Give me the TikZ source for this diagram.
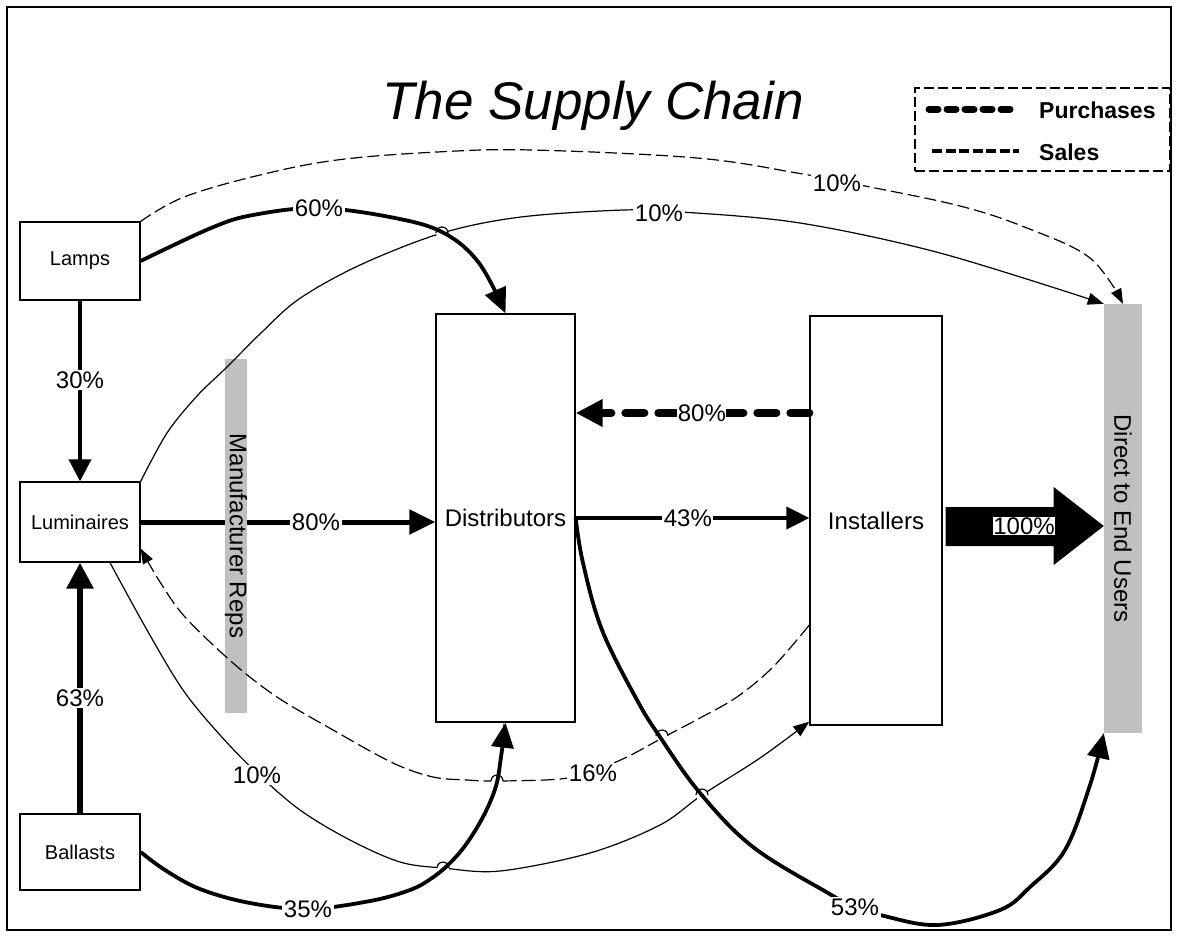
\documentclass[tikz,border=0pt]{standalone}
\usepackage{fontspec}
\setmainfont{Liberation Sans}
\usetikzlibrary{arrows.meta,calc}
\definecolor{repgray}{RGB}{192,192,192}

% small bridge where a thin flow hops over a heavy one
\newcommand\hopcut[2]{\fill[white] (#1,#2) circle[radius=6pt];}
\newcommand\hoparc[2]{\draw[line width=1.2pt] ($(#1,#2)+(-6pt,0pt)$) arc[start angle=180,end angle=0,radius=6pt];}

\begin{document}
\begin{tikzpicture}[x=1pt, y=-1pt,
  box/.style={draw, line width=1.3pt, inner sep=0pt, font=\fontsize{20}{24}\selectfont},
  bigbox/.style={box, font=\fontsize{24}{28}\selectfont},
  bar/.style={fill=repgray, inner sep=0pt},
  bartext/.style={rotate=-90, inner sep=0pt, font=\fontsize{24}{28}\selectfont},
  lbl/.style={fill=white, inner sep=1.5pt, font=\fontsize{24}{28}\selectfont},
  thinflow/.style={line width=1.2pt, -{Triangle[length=16pt,width=12pt]}},
  salesflow/.style={line width=1.2pt, dash pattern=on 12pt off 5pt, -{Triangle[length=15pt,width=11pt]}},
  heavyflow/.style={line width=3.8pt, -{Triangle[length=25pt,width=22pt]}},
  purchaseflow/.style={line width=8pt, line cap=round, dash pattern=on 19pt off 14pt, -{Triangle[length=27pt,width=26pt]}},
]
\useasboundingbox (0,0) rectangle (1177,935);
\draw[line width=1.5pt] (7,7) rectangle (1171,930);

% title
\node[anchor=base, inner sep=0pt, font=\fontsize{53}{58}\selectfont\itshape] (title) at (593,119) {The Supply Chain};

% legend
\node[draw, line width=1.5pt, dash pattern=on 10pt off 4pt, minimum width=255, minimum height=83, inner sep=0pt] (legend) at (1042.5,129.5) {};
\draw[line width=7pt, line cap=round, dash pattern=on 9pt off 9pt] (929,109) -- (1013,109);
\node[anchor=west, inner sep=0pt, font=\fontsize{23}{26}\selectfont\bfseries] (lp) at (1039,110) {Purchases};
\draw[line width=4pt, dash pattern=on 10pt off 3.5pt] (932,151) -- (1019,151);
\node[anchor=west, inner sep=0pt, font=\fontsize{23}{26}\selectfont\bfseries] (ls) at (1039,152) {Sales};

% boxes
\node[box, minimum width=120, minimum height=78] (lamps) at (80,261) {Lamps};
\node[box, minimum width=120, minimum height=80] (lum) at (80,522) {Luminaires};
\node[box, minimum width=120, minimum height=76] (ball) at (80,852) {Ballasts};
\node[bigbox, minimum width=139, minimum height=408] (dist) at (505.5,518) {Distributors};
\node[bigbox, minimum width=132, minimum height=409] (inst) at (876,520.5) {Installers};
\node[bar, minimum width=38, minimum height=429] (direct) at (1123,518.5) {};
\node[bartext] at (direct.center) {Direct to End Users};

% luminaires to distributors, passing behind the reps bar
\draw[line width=5pt, -{Triangle[length=26pt,width=24pt]}] (lum.east) -- (lum.east -| dist.west)
  node[lbl, pos=0.595] (l80a) {80\%};
\node[bar, minimum width=22, minimum height=354] (reps) at (236,536) {};
\node[bartext] at (reps.center) {Manufacturer Reps};

% thin flows
\draw[salesflow] plot[smooth, tension=0.6] coordinates {(lamps.north east) (184,197) (260,175) (337,160) (437,152) (532,150) (697,158) (797,173) (860,185) (960,206) (1027,228) (1090,258) (direct.north)};
\draw[thinflow] plot[smooth, tension=0.55] coordinates {(lum.north east) (167,433) (197,396) (227,367) (261,333) (299,299) (360,265) (442,233) (521,217) (624,210) (682,212) (800,223) (940,253) (direct.north west)};
\draw[salesflow, dash pattern=on 14pt off 5pt] plot[smooth, tension=0.55] coordinates {(inst.west |- 0,625) (773,667) (737,697) (700,718) (664,737) (627,757) (593,771) (560,779) (497,781) (467,780) (433,777) (393,763) (333,730) (277,697) (233,663) (185,617) (160,582) ($(lum.south east)+(0,-14)$)};
\draw[thinflow] plot[smooth, tension=0.55] coordinates {($(lum.south)+(30,0)$) (147,630) (183,690) (220,735) (257,773) (300,810) (350,840) (400,862) (443,868) (500,871) (590,853) (660,825) (702,795) (760,758) ($(inst.south west)+(0,-4)$)};

% gaps where thin flows pass over heavy ones
\hopcut{442}{233}
\hopcut{497}{781}
\hopcut{662}{736}
\hopcut{443}{868}
\hopcut{702}{795}

% heavy flows
\draw[heavyflow] plot[smooth, tension=0.6] coordinates {(lamps.east) (211,228) (253,215) (319,208) (395,218) (444,233) (479,263) (dist.north)};
\draw[heavyflow] plot[smooth, tension=0.6] coordinates {(ball.east) (165,870) (200,889) (250,903) (308,909) (370,901) (410,890) (432,878) (450,863) (467,843) (484,815) (496,786) (501,757) (dist.south)};
\draw[heavyflow] plot[smooth, tension=0.6] coordinates {(dist.east) (583,563) (602,630) (637,700) (660,737) (700,793) (753,847) (828,893) (856,908) (880,915) (937,925) (1000,910) (1030,887) (1065,850) (1090,785) (direct.south west)};

\hoparc{442}{233}
\hoparc{497}{781}
\hoparc{662}{736}
\hoparc{443}{868}
\hoparc{702}{795}

% straight flows
\draw[line width=3.8pt, -{Triangle[length=22pt,width=22pt]}] (lamps.south) -- (lum.north)
  node[lbl, pos=0.44] (l30) {30\%};
\draw[line width=6pt, -{Triangle[length=26pt,width=26pt]}] (ball.north) -- (lum.south)
  node[lbl, pos=0.46] (l63) {63\%};
\draw[line width=3.8pt, -{Triangle[length=23pt,width=22pt]}] (dist.east) -- (dist.east -| inst.west)
  node[lbl, pos=0.48] (l43) {43\%};
\draw[purchaseflow] (inst.west |- 0,413) -- (dist.east |- 0,413)
  node[lbl, inner sep=0.5pt, pos=0.46] (l80b) {80\%};

% installers to end users
\coordinate (ba) at (inst.east |- 0,526);
\fill ($(ba)+(3,-19)$) -- ($(ba)+(111,-19)$) -- ($(ba)+(111,-39)$) -- (direct.west |- ba)
  -- ($(ba)+(111,39)$) -- ($(ba)+(111,20)$) -- ($(ba)+(3,20)$) -- cycle;
\node[lbl, inner sep=0.5pt] (l100) at (1024,526) {100\%};

% curve labels
\node[lbl] (l60) at (319,208) {60\%};
\node[lbl] (l10a) at (837,183) {10\%};
\node[lbl] (l10b) at (659,213) {10\%};
\node[lbl] (l16) at (593,773) {16\%};
\node[lbl] (l10c) at (257,775) {10\%};
\node[lbl] (l35) at (308,909) {35\%};
\node[lbl] (l53) at (855,907) {53\%};
\end{tikzpicture}
\end{document}
